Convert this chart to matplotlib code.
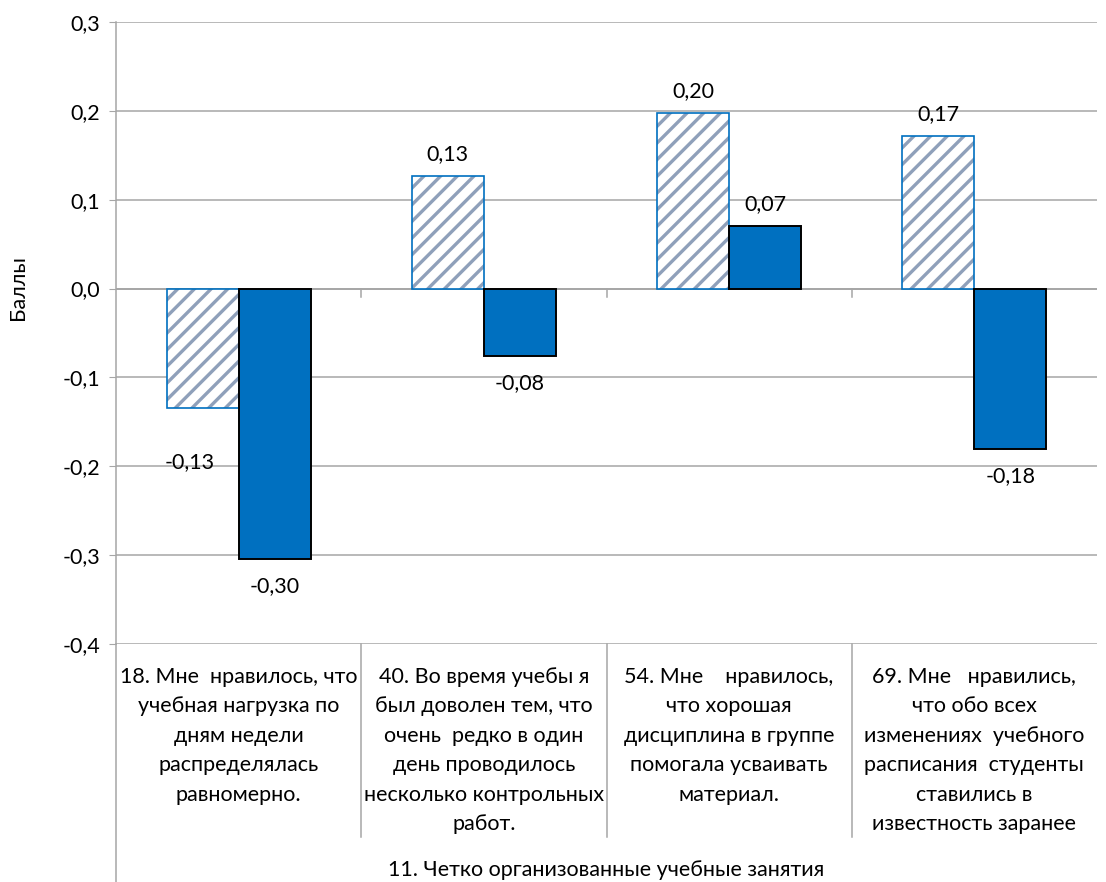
import numpy as np
import matplotlib
matplotlib.use("Agg")
import matplotlib.pyplot as plt
import matplotlib.transforms as mtransforms

plt.rcParams['font.family'] = ['Lato', 'DejaVu Sans']
plt.rcParams['hatch.linewidth'] = 2.4

categories = [
    "18. Мне  нравилось, что\nучебная нагрузка по\nдням недели\nраспределялась\nравномерно.",
    "40. Во время учебы я\nбыл доволен тем, что\nочень  редко в один\nдень проводилось\nнесколько контрольных\nработ.",
    "54. Мне    нравилось,\nчто хорошая\nдисциплина в группе\nпомогала усваивать\nматериал.",
    "69. Мне   нравились,\nчто обо всех\nизменениях  учебного\nрасписания  студенты\nставились в\nизвестность заранее",
]
group_label = "11. Четко организованные учебные занятия"
series_hatched = [-0.134, 0.127, 0.198, 0.172]
series_solid = [-0.304, -0.076, 0.070, -0.181]
y_ticks = [-0.4, -0.3, -0.2, -0.1, 0.0, 0.1, 0.2, 0.3]
y_label = "Баллы"

FS = 15.5
H = 882.0

fig = plt.figure(figsize=(11.06, 8.82), dpi=100)
ax = fig.add_axes([116/1106, 1-644/H, (1097-116)/1106, (644-22)/H])

x = np.arange(len(categories))
w = 0.294
grid_c = '#A6A6A6'

# hatched series
ax.bar(x - w/2, series_hatched, w, color='white', edgecolor='#8FA0BA',
       hatch='//', linewidth=0, zorder=3)
ax.bar(x - w/2, series_hatched, w, fill=False, edgecolor='#0070C0',
       linewidth=1.2, zorder=4)
# solid series
ax.bar(x + w/2, series_solid, w, color='#0070C0', edgecolor='black',
       linewidth=1.4, zorder=4)

ax.set_xlim(-0.5, len(categories) - 0.5)
ax.set_ylim(-0.4, 0.3)
ax.set_yticks(y_ticks)
ax.set_yticklabels([f"{t:.1f}".replace('.', ',') for t in y_ticks], fontsize=FS)
ax.tick_params(axis='y', length=5, color=grid_c, pad=6.5)
ax.set_xticks([])
ax.grid(axis='y', color=grid_c, linewidth=1.1, zorder=0)
ax.set_axisbelow(True)
for s in ['top', 'right', 'bottom']:
    ax.spines[s].set_visible(False)
ax.spines['left'].set_color(grid_c)
ax.spines['left'].set_linewidth(1.1)

fig.text(18/1106, 1-288/H, y_label, rotation=90, ha='center', va='center', fontsize=FS)

# zero axis line with boundary tick marks
ax.axhline(0, color=grid_c, linewidth=1.3, zorder=2)
tr = mtransforms.blended_transform_factory(ax.transData, ax.transAxes)
trf = mtransforms.blended_transform_factory(ax.transData, fig.transFigure)
zero_frac = (0 - (-0.4)) / 0.7
for b in np.arange(1, len(categories)) - 0.5:
    ax.plot([b, b], [zero_frac, zero_frac - 8/622], color=grid_c, lw=1.1,
            transform=tr, clip_on=False, zorder=2)

# category table dividers
for b in np.arange(1, len(categories)) - 0.5:
    ax.plot([b, b], [1-644/H, 1-837/H], color=grid_c, lw=1.1,
            transform=trf, clip_on=False)
ax.plot([-0.5, -0.5], [1-644/H, 0], color=grid_c, lw=1.1,
        transform=trf, clip_on=False)

# category labels, line by line
first_baseline = 683.0
step = 29.4
for xi, lab in zip(x, categories):
    for k, line in enumerate(lab.split("\n")):
        ax.text(xi, 1 - (first_baseline + k*step)/H, line, transform=trf,
                ha='center', va='baseline', fontsize=FS)
ax.text((len(categories) - 1) / 2, 1 - 876/H, group_label, transform=trf,
        ha='center', va='baseline', fontsize=FS)

def fmt(v):
    return f"{v:.2f}".replace('.', ',')

for i, (xi, v) in enumerate(zip(x, series_hatched)):
    if v >= 0:
        ax.annotate(fmt(v), (xi - w/2, v), xytext=(0, 12), textcoords='offset pixels',
                    ha='center', va='bottom', fontsize=FS)
    else:
        dx = -13 if i == 0 else 0
        dy = -44 if i == 0 else -18
        ax.annotate(fmt(v), (xi - w/2, v), xytext=(dx, dy), textcoords='offset pixels',
                    ha='center', va='top', fontsize=FS)
for xi, v in zip(x, series_solid):
    if v >= 0:
        ax.annotate(fmt(v), (xi + w/2, v), xytext=(0, 12), textcoords='offset pixels',
                    ha='center', va='bottom', fontsize=FS)
    else:
        ax.annotate(fmt(v), (xi + w/2, v), xytext=(0, -17), textcoords='offset pixels',
                    ha='center', va='top', fontsize=FS)

fig.savefig("out.png", dpi=100)
